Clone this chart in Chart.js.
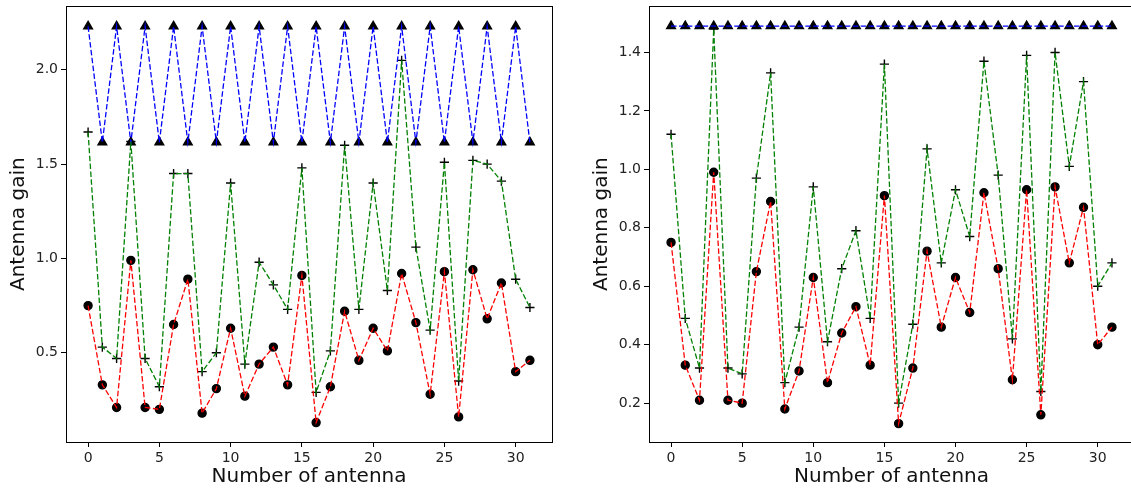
<!DOCTYPE html>
<html lang="en">
<head>
<meta charset="UTF-8" />
<title>Antenna gain</title>
<script src="https://cdn.jsdelivr.net/npm/chart.js"></script>
<style>
  html, body { margin: 0; padding: 0; background: #fff; overflow: hidden; }
  body { width: 1131px; height: 493px; position: relative; }
  .panel { position: absolute; top: 0; width: 560px; height: 493px; }
  #panelLeft { left: 0; }
  #panelRight { left: 583px; }
</style>
</head>
<body>

<div class="panel" id="panelLeft"><canvas id="chartLeft" width="560" height="493"></canvas></div>
<div class="panel" id="panelRight"><canvas id="chartRight" width="560" height="493"></canvas></div>

<script>
  // antenna index 0..31
  const antenna = [0, 1, 2, 3, 4, 5, 6, 7, 8, 9, 10, 11, 12, 13, 14, 15,
                   16, 17, 18, 19, 20, 21, 22, 23, 24, 25, 26, 27, 28, 29, 30, 31];
  const xTicks = [0, 5, 10, 15, 20, 25, 30];
  const yTicksLeft = [0.5, 1.0, 1.5, 2.0];
  const yTicksRight = [0.2, 0.4, 0.6, 0.8, 1.0, 1.2, 1.4];

  // red series is the same on both panels
  const gainRed = [0.75, 0.33, 0.21, 0.99, 0.21, 0.20, 0.65, 0.89, 0.18, 0.31, 0.63, 0.27, 0.44, 0.53, 0.33, 0.91,
                   0.13, 0.32, 0.72, 0.46, 0.63, 0.51, 0.92, 0.66, 0.28, 0.93, 0.16, 0.94, 0.68, 0.87, 0.40, 0.46];

  const gainGreenLeft = [1.67, 0.53, 0.47, 1.62, 0.47, 0.32, 1.45, 1.45, 0.40, 0.50, 1.40, 0.44, 0.98, 0.86, 0.73, 1.48,
                         0.29, 0.51, 1.60, 0.73, 1.40, 0.83, 2.05, 1.06, 0.62, 1.51, 0.35, 1.52, 1.50, 1.41, 0.89, 0.74];
  const gainBlueLeft = [2.23, 1.615, 2.23, 1.615, 2.23, 1.615, 2.23, 1.615, 2.23, 1.615, 2.23, 1.615, 2.23, 1.615, 2.23, 1.615,
                        2.23, 1.615, 2.23, 1.615, 2.23, 1.615, 2.23, 1.615, 2.23, 1.615, 2.23, 1.615, 2.23, 1.615, 2.23, 1.615];

  const gainGreenRight = [1.12, 0.49, 0.32, 1.48, 0.32, 0.30, 0.97, 1.33, 0.27, 0.46, 0.94, 0.41, 0.66, 0.79, 0.49, 1.36,
                          0.20, 0.47, 1.07, 0.68, 0.93, 0.77, 1.37, 0.98, 0.42, 1.39, 0.24, 1.40, 1.01, 1.30, 0.60, 0.68];
  const gainBlueRight = [1.49, 1.49, 1.49, 1.49, 1.49, 1.49, 1.49, 1.49, 1.49, 1.49, 1.49, 1.49, 1.49, 1.49, 1.49, 1.49,
                         1.49, 1.49, 1.49, 1.49, 1.49, 1.49, 1.49, 1.49, 1.49, 1.49, 1.49, 1.49, 1.49, 1.49, 1.49, 1.49];

  const FONT = "'DejaVu Sans', sans-serif";

  // black box around the plot area
  const framePlugin = {
    id: 'frame',
    afterDraw(chart) {
      const { ctx, chartArea: a } = chart;
      ctx.save();
      ctx.strokeStyle = '#000';
      ctx.lineWidth = 1;
      ctx.strokeRect(Math.round(a.left) + 0.5, Math.round(a.top) + 0.5,
                     Math.round(a.right - a.left), Math.round(a.bottom - a.top));
      ctx.restore();
    }
  };

  // fixed axis box sizes, no extra room for edge labels
  function fixSize(s, w, h) {
    if (w !== null) s.width = w;
    if (h !== null) s.height = h;
    s.paddingTop = 0;
    s.paddingBottom = 0;
    s.paddingLeft = 0;
    s.paddingRight = 0;
  }

  // dashed line + black markers, line drawn over the markers
  function series(values, color, style, radius, markerOrder) {
    const pts = antenna.map((x, i) => ({ x: x, y: values[i] }));
    return [
      {
        data: pts,
        borderColor: color,
        borderWidth: 1.3,
        borderDash: [5.5, 2.4],
        pointRadius: 0,
        fill: false,
        tension: 0,
        order: 0
      },
      {
        data: pts,
        showLine: false,
        pointStyle: style,
        pointRadius: radius,
        pointBackgroundColor: '#000',
        pointBorderColor: '#000',
        pointBorderWidth: 1.4,
        order: markerOrder
      }
    ];
  }

  function makeChart(id, green, blue, yMin, yMax, yTicks, padRight) {
    const tickFont = { family: FONT, size: 14 };
    const gridOpts = { display: true, drawOnChartArea: false, drawTicks: true, tickLength: 5, color: '#000', lineWidth: 1 };
    return new Chart(document.getElementById(id), {
      type: 'line',
      data: {
        datasets: [
          ...series(gainRed, '#ff0000', 'circle', 4, 1),
          ...series(green, '#008000', 'cross', 4.6, 2),
          ...series(blue, '#0000ff', 'triangle', 5, 1)
        ]
      },
      options: {
        responsive: false,
        animation: false,
        layout: { padding: { left: 0, top: 4, right: padRight, bottom: 0 } },
        plugins: { legend: { display: false }, tooltip: { enabled: false } },
        scales: {
          x: {
            type: 'linear',
            min: -1.55,
            max: 32.55,
            afterBuildTicks: s => { s.ticks = xTicks.map(v => ({ value: v })); },
            afterFit: s => fixSize(s, null, 51),
            grid: gridOpts,
            border: { display: false },
            ticks: { font: tickFont, color: '#222', padding: 3, maxRotation: 0, autoSkip: false,
                     callback: v => String(v) },
            title: { display: true, text: 'Number of antenna', color: '#111',
                     font: { family: FONT, size: 20 }, padding: { top: 0, bottom: 4 } }
          },
          y: {
            type: 'linear',
            min: yMin,
            max: yMax,
            afterBuildTicks: s => { s.ticks = yTicks.map(v => ({ value: v })); },
            afterFit: s => fixSize(s, 66, null),
            grid: gridOpts,
            border: { display: false },
            ticks: { font: tickFont, color: '#222', padding: 3,
                     callback: v => Number(v).toFixed(1) },
            title: { display: true, text: 'Antenna gain', color: '#111',
                     font: { family: FONT, size: 20 }, padding: { top: 7, bottom: 0 } }
          }
        }
      },
      plugins: [framePlugin]
    });
  }

  makeChart('chartLeft', gainGreenLeft, gainBlueLeft, 0.027, 2.336, yTicksLeft, 8);
  makeChart('chartRight', gainGreenRight, gainBlueRight, 0.067, 1.5575, yTicksRight, 9);
</script>
</body>
</html>
